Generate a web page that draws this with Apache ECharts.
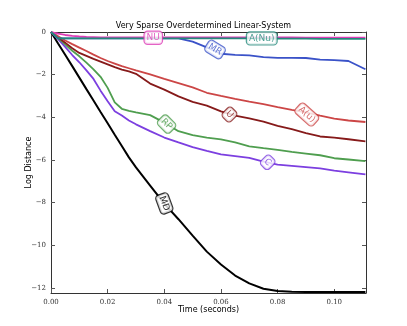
<!DOCTYPE html>
<html>
<head>
<meta charset="utf-8">
<script src="https://cdn.jsdelivr.net/npm/echarts@6/dist/echarts.min.js"></script>
<style>
  html, body { margin: 0; padding: 0; background: #fff; }
  #chart { width: 407px; height: 326px; }
</style>
</head>
<body>
<div id="chart"></div>
<script>
// time grid (seconds)
const time = [0, 0.0025, 0.005, 0.0075, 0.01, 0.0125, 0.015, 0.0175, 0.02, 0.0225, 0.025, 0.0275, 0.03,
  0.035, 0.04, 0.045, 0.05, 0.055, 0.06, 0.065, 0.07, 0.075, 0.08, 0.085, 0.09, 0.095, 0.1, 0.105, 0.111]

const md  = [0, -0.54, -1.07, -1.6, -2.14, -2.68, -3.21, -3.75, -4.28, -4.82, -5.35, -5.88, -6.35,
  -7.2, -8.05, -8.78, -9.55, -10.3, -10.9, -11.42, -11.79, -12.04, -12.15, -12.18, -12.19, -12.19, -12.19, -12.19, -12.19]
const c   = [0, -0.33, -0.7, -1.08, -1.42, -1.8, -2.2, -2.75, -3.25, -3.72, -3.92, -4.15, -4.33,
  -4.65, -4.95, -5.18, -5.4, -5.58, -5.74, -5.82, -5.9, -6.08, -6.22, -6.28, -6.34, -6.4, -6.5, -6.58, -6.68]
const rp  = [0, -0.28, -0.58, -0.88, -1.14, -1.44, -1.75, -2.1, -2.62, -3.3, -3.6, -3.7, -3.77,
  -3.9, -4.25, -4.65, -4.84, -4.95, -5.04, -5.18, -5.36, -5.45, -5.53, -5.62, -5.7, -5.78, -5.92, -5.98, -6.06]
const u   = [0, -0.25, -0.5, -0.76, -0.98, -1.12, -1.26, -1.39, -1.52, -1.65, -1.76, -1.85, -1.96,
  -2.42, -2.7, -3.02, -3.28, -3.45, -3.72, -3.92, -4.05, -4.2, -4.4, -4.56, -4.74, -4.9, -4.95, -5.03, -5.13]
const au  = [0, -0.2, -0.4, -0.57, -0.73, -0.89, -1.06, -1.22, -1.36, -1.48, -1.6, -1.7, -1.8,
  -1.99, -2.2, -2.4, -2.6, -2.85, -3.0, -3.14, -3.27, -3.38, -3.52, -3.65, -3.77, -3.92, -4.06, -4.15, -4.22]
const mr  = [0, -0.3, -0.3, -0.3, -0.3, -0.3, -0.3, -0.3, -0.3, -0.3, -0.3, -0.3, -0.3,
  -0.3, -0.3, -0.3, -0.45, -0.72, -1.02, -1.07, -1.1, -1.18, -1.21, -1.21, -1.22, -1.3, -1.32, -1.36, -1.75]
const nu  = [0, -0.08, -0.14, -0.18, -0.21, -0.23, -0.24, -0.25, -0.25, -0.25, -0.25, -0.25, -0.25,
  -0.25, -0.25, -0.25, -0.25, -0.25, -0.25, -0.25, -0.25, -0.25, -0.25, -0.25, -0.26, -0.26, -0.26, -0.26, -0.26]
const anu = [0, -0.3, -0.3, -0.3, -0.3, -0.3, -0.3, -0.3, -0.3, -0.3, -0.3, -0.3, -0.3,
  -0.3, -0.3, -0.3, -0.3, -0.3, -0.3, -0.3, -0.3, -0.31, -0.31, -0.31, -0.31, -0.32, -0.32, -0.32, -0.32]

const names  = ['MD', 'C', 'RP', 'U', 'A(u)', 'MR', 'NU', 'A(Nu)']
const values = [md, c, rp, u, au, mr, nu, anu]
const colors = ['#000000', '#7c3fe0', '#4f9e4f', '#861a1a', '#cc4646', '#3a52c8', '#dd3cb6', '#23887a']
// inline label spot for each curve: [time, value, rotation]
const labelSpots = [[0.040, -8.04, -70], [0.0765, -6.11, -45], [0.0408, -4.32, -45], [0.063, -3.87, -45],
  [0.0903, -3.87, -42], [0.0579, -0.82, -32], [0.0361, -0.27, 0], [0.0744, -0.3, 0]]

const yTicks = [0, -2, -4, -6, -8, -10, -12]
const xTicks = [0, 0.02, 0.04, 0.06, 0.08, 0.1]

const tickFont = { fontFamily: 'DejaVu Serif', fontSize: 7, color: '#333' }
const nameFont = { fontFamily: 'DejaVu Sans', fontSize: 8, color: '#000' }

function xAxisDef(pos, labels) {
  return {
    type: 'value', position: pos, min: 0, max: 0.1112,
    axisLine: { show: true, onZero: false, lineStyle: { color: '#333', width: 1 } },
    axisTick: { show: true, inside: true, length: 4, customValues: xTicks, lineStyle: { color: '#555' } },
    axisLabel: { show: labels, customValues: xTicks, margin: 6, formatter: v => v.toFixed(2), ...tickFont },
    splitLine: { show: false }
  }
}

function yAxisDef(pos, labels) {
  return {
    type: 'value', position: pos, min: -12.24, max: 0,
    axisLine: { show: true, onZero: false, lineStyle: { color: '#333', width: 1 } },
    axisTick: { show: true, inside: true, length: 4, customValues: yTicks, lineStyle: { color: '#555' } },
    axisLabel: { show: labels, customValues: yTicks, margin: 5,
      formatter: v => (v < 0 ? '\u2212' + Math.abs(v) : String(v)), ...tickFont },
    splitLine: { show: false }
  }
}

const lineSeries = names.map((n, i) => ({
  name: n,
  type: 'line',
  showSymbol: false,
  z: 2 + i,
  data: time.map((t, k) => [t, values[i][k]]),
  lineStyle: { color: colors[i], width: i === 0 ? 2 : 1.8 }
}))

// boxed inline labels on top of all curves
const labelSeries = {
  type: 'scatter',
  z: 20,
  symbolSize: 0,
  silent: true,
  data: names.map((n, i) => ({
    value: [labelSpots[i][0], labelSpots[i][1]],
    label: {
      show: true, position: 'inside', formatter: n, rotate: labelSpots[i][2],
      color: colors[i], fontFamily: 'DejaVu Sans', fontSize: 9,
      backgroundColor: '#fff', borderColor: colors[i], borderWidth: 1.2,
      borderRadius: 3, padding: [2, 2, 1, 2]
    }
  }))
}

const chart = echarts.init(document.getElementById('chart'))

chart.setOption({
  backgroundColor: '#fff',
  animation: false,
  title: {
    text: 'Very Sparse Overdetermined Linear-System',
    left: 'center', top: 17,
    textStyle: { fontFamily: 'DejaVu Sans', fontSize: 8, fontWeight: 'normal', color: '#000' }
  },
  grid: { left: 51, top: 32, width: 315, height: 261 },
  xAxis: [
    { ...xAxisDef('bottom', true), name: 'Time (seconds)', nameLocation: 'middle', nameGap: 13,
      nameMoveOverlap: false, nameTextStyle: nameFont },
    xAxisDef('top', false)
  ],
  yAxis: [
    { ...yAxisDef('left', true), name: 'Log Distance', nameLocation: 'middle', nameGap: 18,
      nameMoveOverlap: false, nameTextStyle: nameFont },
    yAxisDef('right', false)
  ],
  series: [...lineSeries, labelSeries]
})
</script>
</body>
</html>
